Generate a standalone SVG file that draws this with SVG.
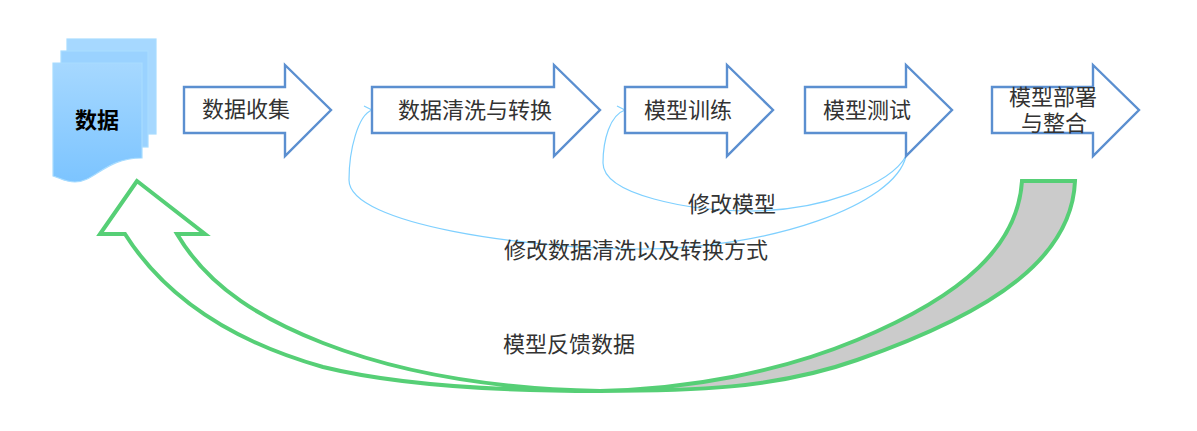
<svg xmlns="http://www.w3.org/2000/svg" width="1197" height="431" viewBox="0 0 1197 431">
<style>
text{font-family:"Noto Sans CJK SC","Liberation Serif",serif;font-size:22px;fill:#333;text-anchor:middle}
.a{fill:#fff;stroke:#5b8fd0;stroke-width:2.4}
.c{fill:none;stroke:#7fd0ff;stroke-width:1.2}
.g{stroke:#56cf76;stroke-width:4;stroke-linejoin:miter}
.s{stroke:#a8dcff;stroke-width:1.2}
</style>
<defs>
<linearGradient id="d" x1="0" y1="0" x2="0" y2="1"><stop offset="0" stop-color="#a6d8ff"/><stop offset="1" stop-color="#7cc4ff"/></linearGradient>
</defs>
<g id="feedback">
<path d="M1022 181C1018 245 965 295 857 340C780 372 690 389 600 391C690 391 775 389 857 360C1000 310 1072 255 1075 181Z" fill="#cbcbcb" stroke="none"/>
<path class="g" fill="none" d="M137 181L100 234H125C170 305 245 345 323 367C400 386 500 391 600 391C690 391 775 389 857 360C1000 310 1072 255 1075 181H1022C1018 245 965 295 857 340C780 372 690 389 600 391C500 389 405 375 323 343C265 320 210 290 177 234H205Z"/>
</g>
<g id="connectors">
<path class="c" d="M906 156C895 205 770 249 640 249C530 249 349 225 349 180C349 150 358 115 372 110M364 106L372 110"/>
<path class="c" d="M906 156C890 185 820 211 750 211C690 211 603 195 603 163C603 140 610 115 625 110M617 106L625 110"/>
</g>
<g id="data">
<rect class="s" x="67" y="39" width="89" height="95" fill="#a6d8ff"/>
<rect class="s" x="61" y="51" width="87" height="96" fill="#9ad2ff"/>
<path class="s" d="M53 63H142V158C105 158 95 182 75 182C65 182 60 178 53 176Z" fill="url(#d)"/>
<text x="97" y="128" style="font-weight:700;fill:#000">数据</text>
</g>
<g id="collect">
<path class="a" d="M184 87H285V65L331 110L285 156V133H184Z"/>
<text x="246" y="117">数据收集</text>
</g>
<g id="clean">
<path class="a" d="M372 87H554V65L600 110L554 156V133H372Z"/>
<text x="475" y="118">数据清洗与转换</text>
</g>
<g id="train">
<path class="a" d="M625 87H727V65L773 110L727 156V133H625Z"/>
<text x="688" y="118">模型训练</text>
</g>
<g id="test">
<path class="a" d="M805 87H906V65L952 110L906 156V133H805Z"/>
<text x="867" y="118">模型测试</text>
</g>
<g id="deploy">
<path class="a" d="M992 87H1093V65L1139 110L1093 156V133H992Z"/>
<text x="1053" y="105">模型部署<tspan x="1054" dy="26">与整合</tspan></text>
</g>
<g id="labels">
<text x="732" y="212">修改模型</text>
<text x="636" y="258">修改数据清洗以及转换方式</text>
<text x="569" y="352">模型反馈数据</text>
</g>
</svg>
